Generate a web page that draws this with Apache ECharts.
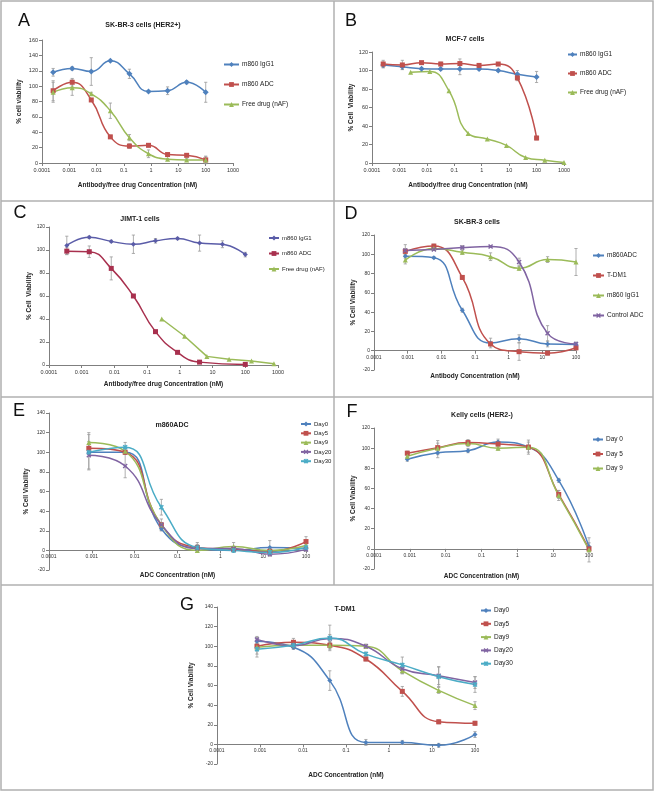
<!DOCTYPE html>
<html>
<head>
<meta charset="utf-8">
<script src="https://cdn.jsdelivr.net/npm/echarts@6/dist/echarts.min.js"></script>
<style>
html,body{margin:0;padding:0;background:#fff;}
#chart{width:655px;height:791px;}
</style>
</head>
<body>
<div id="chart"></div>
<script>
// ---------------- DATA ----------------
// Panel A: SK-BR-3 cells (HER2+)
const concA = [0.000256, 0.00128, 0.0064, 0.032, 0.16, 0.8, 4, 20, 100];
const aIgG1 = [118, 123, 119, 133, 116, 93, 94, 105, 92];
const aIgG1Err = [5, 2, 18, 1, 6, 1, 5, 2, 13];
const aADC = [94, 105, 82, 34, 22, 23, 11, 10, 4];
const aADCErr = [13, 5, 2, 2, 3, 2, 2, 2, 4];
const aFree = [92, 98, 90, 68, 33, 12, 5, 4, 4];
const aFreeErr = [13, 10, 2, 10, 4, 5, 1, 2, 5];

// Panel B: MCF-7 cells
const concB = [0.000256, 0.00128, 0.0064, 0.032, 0.16, 0.8, 4, 20, 100];
const concBFree = [0.00256, 0.0128, 0.064, 0.32, 1.6, 8, 40, 200, 1000];
const bIgG1 = [106, 104, 102, 101.5, 101.5, 101.5, 100, 96, 93];
const bIgG1Err = [3, 3, 1, 1, 6, 1, 1, 4, 6];
const bADC = [107, 106, 108.5, 107, 107.5, 105.5, 107, 92, 27];
const bADCErr = [4, 5, 1, 2, 5, 2, 1, 3, 2];
const bFree = [98, 99, 78, 32, 26, 19, 6, 3, 0.5];

// Panel C: JIMT-1 cells
const concC = [0.00035, 0.0017, 0.008, 0.038, 0.18, 0.85, 4, 20, 100];
const concCADC = [0.00035, 0.0017, 0.008, 0.038, 0.18, 0.85, 4, 100];
const concCFree = [0.28, 1.4, 6.7, 32, 155, 750];
const cIgG1 = [104, 111, 107.5, 105, 108, 110, 106, 105, 96];
const cIgG1Err = [8, 1, 1, 8, 2, 1, 7, 3, 2];
const cADC = [99, 98.5, 84, 60, 29, 11, 2.5, 0.5];
const cADCErr = [3, 5, 10, 1, 1, 1, 1, 1];
const cFree = [40, 25, 7.5, 5, 3.5, 1];

// Panels D-G: 7-fold dilution series
const concD = [0.00085, 0.006, 0.042, 0.29, 2.04, 14.3, 100];
const dADC = [98, 96.5, 42, 8, 12.5, 7, 6.5];
const dADCErr = [2, 1, 2, 5, 4, 3, 2];
const dTDM1 = [103, 108.5, 76, 7, -1, -2.5, 3];
const dTDM1Err = [3, 2, 2, 2, 9, 2, 2];
const dIgG1 = [94, 106, 102, 97.5, 85.5, 94.5, 92];
const dIgG1Err = [4, 2, 2, 4, 2, 3, 14];
const dCtrl = [104, 105, 107, 108, 92, 18, 7];
const dCtrlErr = [6, 1, 2, 1, 4, 8, 2];

const concE = [0.00085, 0.006, 0.042, 0.29, 2.04, 14.3, 100];
const eDay0 = [100, 100, 22, 2, 0, 3, 2];
const eDay0Err = [2, 2, 2, 2, 1, 7, 2];
const eDay5 = [104, 100, 26, 3, 1, -1, 9];
const eDay5Err = [4, 2, 2, 5, 1, 2, 5];
const eDay9 = [110, 101, 26, 0, 4, 0, 5];
const eDay9Err = [10, 3, 6, 2, 4, 2, 2];
const eDay20 = [97, 86, 26, 2, 2, -4, 1];
const eDay20Err = [14, 12, 2, 2, 2, 2, 2];
const eDay30 = [100, 105, 44, 3, 0, -2, 3];
const eDay30Err = [18, 5, 8, 3, 2, 3, 3];

const concF = [0.00085, 0.006, 0.042, 0.29, 2.04, 14.3, 100];
const fDay0 = [89, 95.5, 97.5, 106, 101, 68, 2];
const fDay0Err = [2, 5, 2, 3, 2, 2, 4];
const fDay5 = [95, 100.5, 105.5, 104, 101, 54, 0];
const fDay5Err = [2, 7, 3, 3, 5, 4, 3];
const fDay9 = [92, 100, 104.5, 100, 101, 53, -1];
const fDay9Err = [2, 5, 3, 2, 7, 5, 12];

const concG = [0.00085, 0.006, 0.042, 0.29, 2.04, 14.3, 100];
const gDay0 = [105, 99, 65, 2, 2, -1, 10];
const gDay0Err = [2, 2, 10, 3, 2, 2, 3];
const gDay5 = [100, 104, 101, 87, 54, 23, 21.5];
const gDay5Err = [3, 4, 3, 2, 5, 2, 2];
const gDay9 = [99, 101, 101, 100, 75, 55, 39.5];
const gDay9Err = [10, 3, 4, 2, 3, 3, 4];
const gDay20 = [107, 100.5, 108, 100, 77, 70, 63];
const gDay20Err = [3, 3, 4, 2, 5, 9, 6];
const gDay30 = [97, 101, 108.5, 92, 81, 69, 61];
const gDay30Err = [5, 4, 13, 2, 8, 10, 8];

// ---------------- STYLE ----------------
const FONT = 'Liberation Sans, Arial, sans-serif';
const BLUE = '#4F81BD', RED = '#C0504D', GREEN = '#9BBB59', PURPLE = '#8064A2', CYAN = '#4BACC6';
const C_IGG = '#5A5CA8', C_ADC = '#A8304E';
const SYM_X = 'path://M0,2L2,0L5,3L8,0L10,2L7,5L10,8L8,10L5,7L2,10L0,8L3,5Z';
const SYM_STAR = 'path://M0,2L2,0L4,2L4,0L6,0L6,2L8,0L10,2L7,5L10,8L8,10L6,8L6,10L4,10L4,8L2,10L0,8L3,5Z';

const grids = [
  {left: 42, top: 40, width: 191, height: 123},   // A
  {left: 372, top: 52, width: 192, height: 111},  // B
  {left: 49, top: 227, width: 229, height: 138},  // C
  {left: 374, top: 235, width: 202, height: 135}, // D
  {left: 49, top: 413, width: 257, height: 157},  // E
  {left: 374, top: 428, width: 215, height: 141}, // F
  {left: 217, top: 607, width: 258, height: 157}  // G
];
const yRanges = [[0, 160], [0, 120], [0, 120], [-20, 120], [-20, 140], [-20, 120], [-20, 140]];

function logLabel(v) {
  const e = Math.round(Math.log10(v));
  return e < 0 ? Math.pow(10, e).toFixed(-e) : String(Math.round(Math.pow(10, e)));
}

function xAxis(gi, max, name, nameGap, fs) {
  const r = yRanges[gi];
  // the category axis crosses the value axis at 0
  const off = -grids[gi].height * (0 - r[0]) / (r[1] - r[0]);
  return {
    type: 'log', logBase: 10, gridIndex: gi, min: 0.0001, max: max, splitNumber: 10,
    position: 'bottom', offset: off,
    name: name, nameLocation: 'middle', nameGap: nameGap,
    nameTextStyle: {fontFamily: FONT, fontWeight: 'bold', fontSize: 6.5, color: '#222'},
    axisLine: {show: true, onZero: false, lineStyle: {color: '#7f7f7f', width: 1}},
    axisTick: {show: true, length: 3, lineStyle: {color: '#7f7f7f'}},
    minorTick: {show: false},
    axisLabel: {fontFamily: FONT, fontSize: fs, color: '#333', margin: 4, formatter: logLabel,
                showMinLabel: true, showMaxLabel: true, hideOverlap: false},
    splitLine: {show: false}
  };
}
function yAxis(gi, name, nameGap, fs) {
  const r = yRanges[gi];
  return {
    type: 'value', gridIndex: gi, min: r[0], max: r[1], interval: 20,
    name: name, nameLocation: 'middle', nameGap: nameGap, nameRotate: 90,
    nameTextStyle: {fontFamily: FONT, fontWeight: 'bold', fontSize: 6.5, color: '#222'},
    axisLine: {show: true, lineStyle: {color: '#7f7f7f', width: 1}},
    axisTick: {show: true, length: 3, lineStyle: {color: '#7f7f7f'}},
    axisLabel: {fontFamily: FONT, fontSize: fs, color: '#333', margin: 4},
    splitLine: {show: false}
  };
}

const series = [];
function addLine(gi, panel, name, xs, ys, color, symbol, size, smooth) {
  series.push({
    type: 'line', name: panel + '|' + name, xAxisIndex: gi, yAxisIndex: gi,
    data: xs.map((x, i) => [x, ys[i]]),
    smooth: smooth, symbol: symbol, symbolSize: size, showSymbol: true,
    lineStyle: {color: color, width: 1.5},
    itemStyle: {color: color, borderColor: color, borderWidth: 0},
    emphasis: {disabled: true}, z: 3
  });
}
function addErr(gi, xs, ys, errs) {
  series.push({
    type: 'custom', xAxisIndex: gi, yAxisIndex: gi, z: 2,
    data: xs.map((x, i) => [x, ys[i], errs[i]]),
    renderItem: function (params, api) {
      const x = api.value(0), y = api.value(1), e = api.value(2);
      const t = api.coord([x, y + e]), b = api.coord([x, y - e]);
      const c = 1.6;
      const st = {stroke: '#9a9a9a', lineWidth: 0.8};
      return {type: 'group', children: [
        {type: 'line', shape: {x1: t[0], y1: t[1], x2: b[0], y2: b[1]}, style: st},
        {type: 'line', shape: {x1: t[0] - c, y1: t[1], x2: t[0] + c, y2: t[1]}, style: st},
        {type: 'line', shape: {x1: b[0] - c, y1: b[1], x2: b[0] + c, y2: b[1]}, style: st}
      ]};
    }
  });
}

// Panel A
addErr(0, concA, aIgG1, aIgG1Err); addErr(0, concA, aADC, aADCErr); addErr(0, concA, aFree, aFreeErr);
addLine(0, 'A', 'm860 IgG1', concA, aIgG1, BLUE, 'diamond', 6, true);
addLine(0, 'A', 'm860 ADC', concA, aADC, RED, 'rect', 5, true);
addLine(0, 'A', 'Free drug (nAF)', concA, aFree, GREEN, 'triangle', 5, true);
// Panel B
addErr(1, concB, bIgG1, bIgG1Err); addErr(1, concB, bADC, bADCErr);
addLine(1, 'B', 'm860 IgG1', concB, bIgG1, BLUE, 'diamond', 6, true);
addLine(1, 'B', 'm860 ADC', concB, bADC, RED, 'rect', 5, true);
addLine(1, 'B', 'Free drug (nAF)', concBFree, bFree, GREEN, 'triangle', 5, true);
// Panel C
addErr(2, concC, cIgG1, cIgG1Err); addErr(2, concCADC, cADC, cADCErr);
addLine(2, 'C', 'm860 IgG1', concC, cIgG1, C_IGG, 'diamond', 5, true);
addLine(2, 'C', 'm860 ADC', concCADC, cADC, C_ADC, 'rect', 5, true);
addLine(2, 'C', 'Free drug (nAF)', concCFree, cFree, GREEN, 'triangle', 5, false);
// Panel D
addErr(3, concD, dADC, dADCErr); addErr(3, concD, dTDM1, dTDM1Err);
addErr(3, concD, dIgG1, dIgG1Err); addErr(3, concD, dCtrl, dCtrlErr);
addLine(3, 'D', 'm860ADC', concD, dADC, BLUE, 'diamond', 5, true);
addLine(3, 'D', 'T-DM1', concD, dTDM1, RED, 'rect', 5, true);
addLine(3, 'D', 'm860 IgG1', concD, dIgG1, GREEN, 'triangle', 5, true);
addLine(3, 'D', 'Control ADC', concD, dCtrl, PURPLE, SYM_X, 5, true);
// Panel E
addErr(4, concE, eDay0, eDay0Err); addErr(4, concE, eDay5, eDay5Err); addErr(4, concE, eDay9, eDay9Err);
addErr(4, concE, eDay20, eDay20Err); addErr(4, concE, eDay30, eDay30Err);
addLine(4, 'E', 'Day0', concE, eDay0, BLUE, 'diamond', 5, true);
addLine(4, 'E', 'Day5', concE, eDay5, RED, 'rect', 5, true);
addLine(4, 'E', 'Day9', concE, eDay9, GREEN, 'triangle', 5, true);
addLine(4, 'E', 'Day20', concE, eDay20, PURPLE, SYM_X, 5, true);
addLine(4, 'E', 'Day30', concE, eDay30, CYAN, SYM_STAR, 5, true);
// Panel F
addErr(5, concF, fDay0, fDay0Err); addErr(5, concF, fDay5, fDay5Err); addErr(5, concF, fDay9, fDay9Err);
addLine(5, 'F', 'Day 0', concF, fDay0, BLUE, 'diamond', 5, true);
addLine(5, 'F', 'Day 5', concF, fDay5, RED, 'rect', 5, true);
addLine(5, 'F', 'Day 9', concF, fDay9, GREEN, 'triangle', 5, true);
// Panel G
addErr(6, concG, gDay0, gDay0Err); addErr(6, concG, gDay5, gDay5Err); addErr(6, concG, gDay9, gDay9Err);
addErr(6, concG, gDay20, gDay20Err); addErr(6, concG, gDay30, gDay30Err);
addLine(6, 'G', 'Day0', concG, gDay0, BLUE, 'diamond', 5, true);
addLine(6, 'G', 'Day5', concG, gDay5, RED, 'rect', 5, true);
addLine(6, 'G', 'Day9', concG, gDay9, GREEN, 'triangle', 5, true);
addLine(6, 'G', 'Day20', concG, gDay20, PURPLE, SYM_X, 5, true);
addLine(6, 'G', 'Day30', concG, gDay30, CYAN, SYM_STAR, 5, true);

function legend(panel, names, left, top, gap, iw, fs) {
  return {
    data: names.map(n => panel + '|' + n), left: left, top: top, orient: 'vertical',
    itemGap: gap, itemWidth: iw, itemHeight: 6, padding: 0,
    formatter: n => n.split('|')[1],
    textStyle: {fontFamily: FONT, fontSize: fs, color: '#222', padding: [0, 0, 0, -2]},
    selectedMode: false
  };
}

const titles = [
  ['SK-BR-3 cells (HER2+)', 143, 25], ['MCF-7 cells', 465, 39], ['JIMT-1 cells', 140, 219],
  ['SK-BR-3 cells', 477, 222], ['m860ADC', 172, 425], ['Kelly cells (HER2-)', 482, 415], ['T-DM1', 345, 609]
];
const letters = [['A', 24, 21], ['B', 351, 21], ['C', 20, 213], ['D', 351, 214], ['E', 19, 411], ['F', 352, 412], ['G', 187, 605]];

const graphic = [];
const FR = {stroke: '#b0b0b0', lineWidth: 1.5};
graphic.push({type: 'rect', shape: {x: 1, y: 1, width: 652, height: 789}, style: {fill: null, stroke: '#b0b0b0', lineWidth: 1.5}});
graphic.push({type: 'line', shape: {x1: 334, y1: 1, x2: 334, y2: 585}, style: FR});
graphic.push({type: 'line', shape: {x1: 1, y1: 201, x2: 653, y2: 201}, style: FR});
graphic.push({type: 'line', shape: {x1: 1, y1: 397, x2: 653, y2: 397}, style: FR});
graphic.push({type: 'line', shape: {x1: 1, y1: 585, x2: 653, y2: 585}, style: FR});
titles.forEach(t => graphic.push({type: 'text', x: t[1], y: t[2], style: {text: t[0], align: 'center', verticalAlign: 'middle',
  font: 'bold 7px ' + FONT, fill: '#222'}}));
letters.forEach(t => graphic.push({type: 'text', x: t[1], y: t[2], style: {text: t[0], align: 'center', verticalAlign: 'middle',
  font: '18px ' + FONT, fill: '#111'}}));

const option = {
  animation: false,
  backgroundColor: '#fff',
  grid: grids.map(g => Object.assign({containLabel: false, outerBoundsMode: 'none'}, g)),
  xAxis: [
    xAxis(0, 1000, 'Antibody/free drug Concentration (nM)', 19, 5.5),
    xAxis(1, 1000, 'Antibody/free drug Concentration (nM)', 19, 5.5),
    xAxis(2, 1000, 'Antibody/free drug Concentration (nM)', 16, 5.5),
    xAxis(3, 100, 'Antibody Concentration (nM)', 22, 5),
    xAxis(4, 100, 'ADC Concentration (nM)', 21, 5),
    xAxis(5, 100, 'ADC Concentration (nM)', 24, 5),
    xAxis(6, 100, 'ADC Concentration (nM)', 27, 5)
  ],
  yAxis: [
    yAxis(0, '% cell viability', 19, 5.5),
    yAxis(1, '% Cell  Viability', 17, 5.5),
    yAxis(2, '% Cell  Viability', 10, 5),
    yAxis(3, '% Cell Viability', 17, 5),
    yAxis(4, '% Cell Viability', 19, 5),
    yAxis(5, '% Cell Viability', 17, 5),
    yAxis(6, '% Cell Viability', 22, 5)
  ],
  legend: [
    legend('A', ['m860 IgG1', 'm860 ADC', 'Free drug (nAF)'], 223, 61, 13, 15, 6.5),
    legend('B', ['m860 IgG1', 'm860 ADC', 'Free drug (nAF)'], 567, 51, 12, 9, 6.5),
    legend('C', ['m860 IgG1', 'm860 ADC', 'Free drug (nAF)'], 268, 235, 9.5, 10, 6),
    legend('D', ['m860ADC', 'T-DM1', 'm860 IgG1', 'Control ADC'], 592, 252, 13, 11, 6.5),
    legend('E', ['Day0', 'Day5', 'Day9', 'Day20', 'Day30'], 300, 421, 3.3, 10, 6),
    legend('F', ['Day 0', 'Day 5', 'Day 9'], 592, 436, 7.5, 10, 6.5),
    legend('G', ['Day0', 'Day5', 'Day9', 'Day20', 'Day30'], 480, 607, 6.3, 10, 6.5)
  ],
  graphic: graphic,
  series: series
};

const chart = echarts.init(document.getElementById('chart'), null, {renderer: 'canvas'});
chart.setOption(option);
</script>
</body>
</html>
